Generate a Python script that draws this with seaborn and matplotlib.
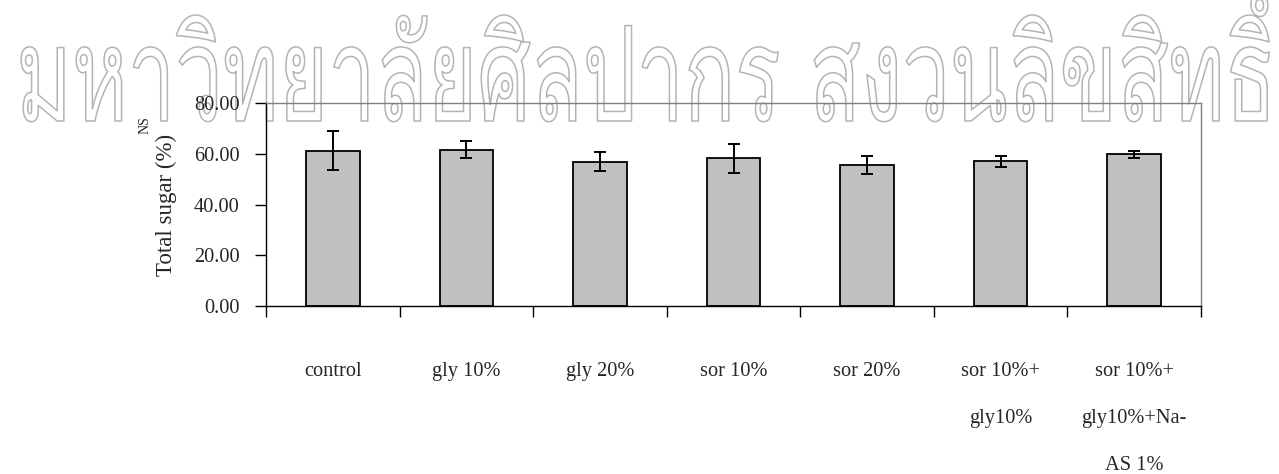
import numpy as np
import pandas as pd
import seaborn as sns
import matplotlib
matplotlib.use("Agg")
import matplotlib.pyplot as plt
import matplotlib.patheffects as pe
from matplotlib.transforms import Affine2D

# Treatments and measured total sugar (mean ± SD)
treatments = ["control", "gly 10%", "gly 20%", "sor 10%", "sor 20%",
              "sor 10%+\ngly10%", "sor 10%+\ngly10%+Na-\nAS 1%"]
total_sugar = [61.1, 61.6, 56.9, 58.2, 55.6, 57.0, 59.8]
sd = [7.7, 3.4, 3.7, 5.8, 3.7, 2.2, 1.4]
y_ticks = [0, 20, 40, 60, 80]
watermark = "มหาวิทยาลัยศิลปากร สงวนลิขสิทธิ์"

df = pd.DataFrame({"treatment": treatments, "sugar": total_sugar, "sd": sd})

sns.set_theme(style="white")
plt.rcParams["font.family"] = ["Liberation Serif", "DejaVu Serif"]

W, H = 1279, 474


class TallOutline(pe.AbstractPathEffect):
    """Draw glyph outlines stretched vertically about a baseline."""

    def __init__(self, sy, y0, edge="#b4b4b4", lw=1.1):
        super().__init__()
        self.sy, self.y0, self.edge, self.lw = sy, y0, edge, lw

    def draw_path(self, renderer, gc, tpath, affine, rgbFace=None):
        stretch = Affine2D().translate(0, -self.y0).scale(1, self.sy).translate(0, self.y0)
        gc0 = renderer.new_gc()
        gc0.copy_properties(gc)
        gc0.set_foreground(self.edge)
        gc0.set_linewidth(self.lw)
        renderer.draw_path(gc0, tpath, affine + stretch, (1, 1, 1, 1))
        gc0.restore()


fig = plt.figure(figsize=(W / 100, H / 100), dpi=100)
ax = fig.add_axes([266 / W, 1 - 306 / H, (1201 - 266) / W, (306 - 103) / H])

# outlined watermark across the top, behind the chart
base_px = 121
wm = fig.text(0.5 * (16 + 1276) / W, 1 - base_px / H, watermark, ha="center",
              va="baseline", fontsize=60, family=["Loma", "Garuda", "FreeSerif"],
              color="white", zorder=-1)
fig.canvas.draw()
wm.set_fontsize(60 * (1276 - 16) / wm.get_window_extent().width)
wm.set_path_effects([TallOutline(sy=1.56, y0=H - base_px)])

sns.barplot(data=df, x="treatment", y="sugar", ax=ax, color="#c0c0c0",
            width=0.4, edgecolor="black", linewidth=1.3, saturation=1,
            errorbar=None, zorder=2)
ax.errorbar(np.arange(len(treatments)), df["sugar"], yerr=df["sd"], fmt="none",
            ecolor="black", elinewidth=1.4, capsize=4.5, capthick=1.4, zorder=3)

ax.set_xlim(-0.5, len(treatments) - 0.5)
ax.set_ylim(0, 80)
ax.set_yticks(y_ticks)
ax.set_yticklabels([f"{v:.2f}" for v in y_ticks])
ax.set_xlabel("")
ax.set_ylabel("Total sugar (%)", fontsize=16.5, labelpad=12)
ax.text((145 - 266) / 935, (306 - 125) / 203, "NS", transform=ax.transAxes,
        rotation=90, ha="center", va="center", fontsize=10)

ax.set_xticks(np.arange(len(treatments)))
ax.set_xticklabels(treatments, linespacing=3.0)
ax.set_xticks(np.arange(len(treatments) + 1) - 0.5, minor=True)
ax.tick_params(axis="x", which="major", length=0, pad=40, labelsize=14.7)
ax.tick_params(axis="x", which="minor", length=8, width=1, color="black",
               direction="out", bottom=True)
ax.tick_params(axis="y", length=8, width=1, color="black", direction="out",
               left=True, pad=11, labelsize=14.7)

for side in ["left", "bottom"]:
    ax.spines[side].set_color("black")
    ax.spines[side].set_linewidth(1)
for side in ["top", "right"]:
    ax.spines[side].set_color("#808080")
    ax.spines[side].set_linewidth(1)
ax.patch.set_alpha(0)

fig.savefig("out.png", dpi=100)
